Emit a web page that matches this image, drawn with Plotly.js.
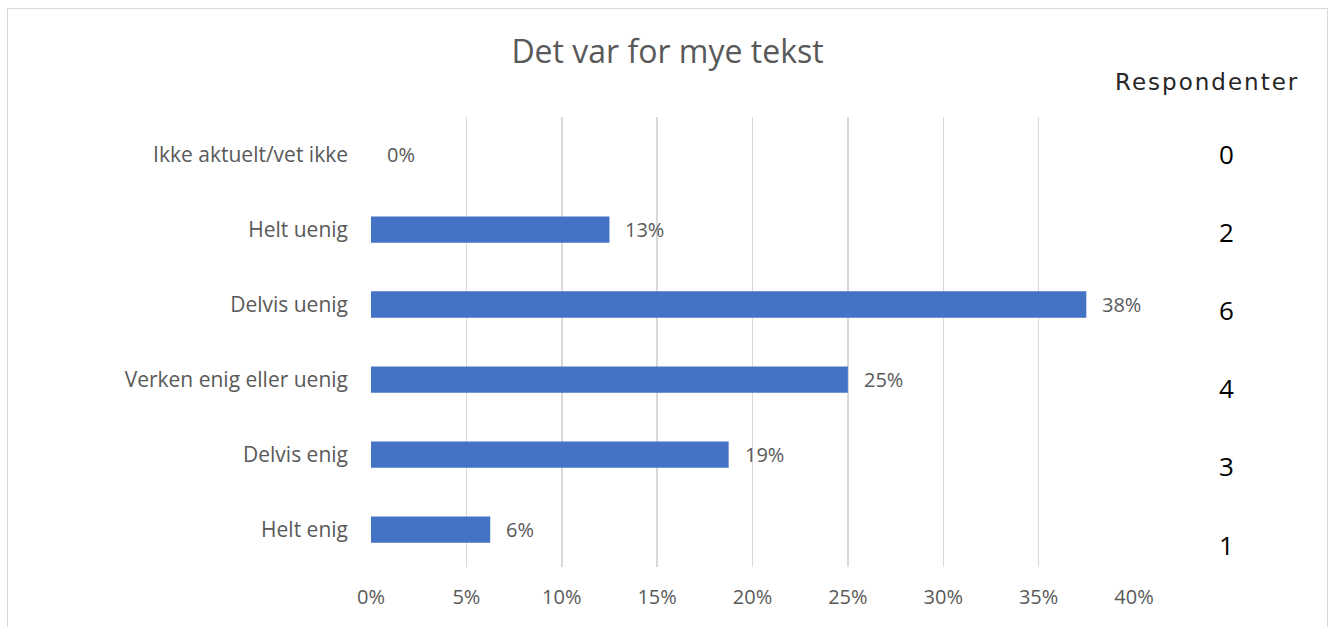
<!DOCTYPE html>
<html lang="no">
<head>
  <meta charset="UTF-8" />
  <title>Det var for mye tekst</title>
  <script src="https://cdn.plot.ly/plotly-3.0.1.min.js"></script>
  <style>
    body { margin: 0; background: #fff; }
    #chart { width: 1335px; height: 627px; }
    /* tynn ramme rundt diagrammet */
    #frame {
      position: absolute; left: 7px; top: 8px;
      width: 1319px; height: 640px;
      border: 1px solid #d9d9d9;
      pointer-events: none;
    }
  </style>
</head>
<body>
  <div id="chart"></div>
  <div id="frame"></div>
  <script>
    // Svaralternativer (nederst til øverst i diagrammet)
    const categories = ['Helt enig', 'Delvis enig', 'Verken enig eller uenig', 'Delvis uenig', 'Helt uenig', 'Ikke aktuelt/vet ikke'];
    const shares = [0.0625, 0.1875, 0.25, 0.375, 0.125, 0];
    const shareLabels = ['6%', '19%', '25%', '38%', '13%', '0%'];
    // Antall respondenter (øverst til nederst)
    const respondents = [0, 2, 6, 4, 3, 1];
    const tickVals = [0, 0.05, 0.10, 0.15, 0.20, 0.25, 0.30, 0.35, 0.40];

    const font = 'Open Sans, sans-serif';
    const gray = '#595959';

    const trace = {
      type: 'bar',
      orientation: 'h',
      y: categories,
      x: shares,
      marker: { color: '#4472C4' },
      hoverinfo: 'skip'
    };

    const annotations = [];
    // dataetiketter til høyre for stolpene
    categories.forEach((c, i) => {
      annotations.push({
        x: shares[i], y: c, xref: 'x', yref: 'y',
        text: shareLabels[i], showarrow: false,
        xanchor: 'left', yanchor: 'middle', xshift: 14,
        font: { family: font, size: 20, color: gray }
      });
    });
    // respondent-kolonnen
    annotations.push({
      x: 1.0957, y: 1.077, xref: 'paper', yref: 'paper',
      xanchor: 'center', yanchor: 'middle',
      text: '<span style="letter-spacing:2px">Respondenter</span>', showarrow: false,
      font: { family: 'DejaVu Sans, sans-serif', size: 23, color: '#262626' }
    });
    const colTop = 0.9167, colBottom = 0.05;
    respondents.forEach((n, i) => {
      annotations.push({
        x: 1.1206, y: colTop - i * (colTop - colBottom) / (respondents.length - 1),
        xref: 'paper', yref: 'paper',
        xanchor: 'center', yanchor: 'middle',
        text: String(n), showarrow: false,
        font: { family: font, size: 26, color: '#000' }
      });
    });

    const layout = {
      width: 1335, height: 627,
      margin: { l: 371, r: 201, t: 117, b: 60 },
      paper_bgcolor: '#fff', plot_bgcolor: '#fff',
      title: {
        text: 'Det var for mye tekst',
        x: 0.5, xref: 'container', xanchor: 'center',
        y: 0.917, yref: 'container', yanchor: 'middle',
        font: { family: font, size: 32, color: gray }
      },
      bargap: 0.65,
      showlegend: false,
      xaxis: {
        range: [0, 0.4],
        tickvals: tickVals,
        tickformat: '.0%',
        showgrid: true, gridcolor: '#d9d9d9', gridwidth: 1.5,
        zeroline: false, showline: false,
        ticks: '', ticklabelstandoff: 16,
        tickfont: { family: font, size: 20, color: gray }
      },
      yaxis: {
        type: 'category',
        showgrid: false, zeroline: false, showline: false,
        ticks: '', ticklabelstandoff: 22,
        tickfont: { family: font, size: 21, color: gray }
      },
      annotations: annotations
    };

    Plotly.newPlot('chart', [trace], layout, { displayModeBar: false, staticPlot: true });
  </script>
</body>
</html>
